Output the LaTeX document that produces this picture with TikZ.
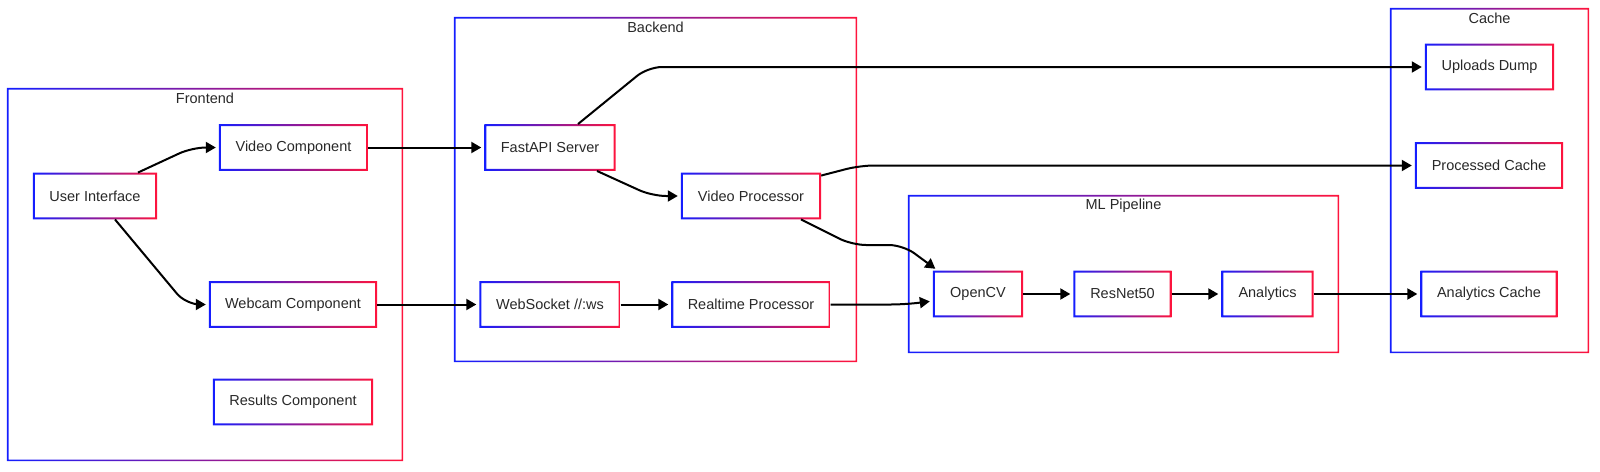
\documentclass[tikz,border=0pt]{standalone}
\usepackage{fontspec}
\setmainfont{Liberation Sans}
\usetikzlibrary{arrows.meta}
\definecolor{gB}{RGB}{20,30,255}
\definecolor{gR}{RGB}{255,20,60}
\definecolor{txt}{RGB}{40,40,40}
\newcommand\gring[2]{\shade[left color=gB, right color=gR, even odd rule] (#1.south west) rectangle (#1.north east) ([shift={(#2pt,#2pt)}]#1.south west) rectangle ([shift={(-#2pt,-#2pt)}]#1.north east);}
\begin{document}
\begin{tikzpicture}[x=1pt,y=-1pt,
  box/.style={rectangle, inner sep=0pt, minimum height=46.5pt, text=txt, font=\fontsize{14.5}{17}\selectfont},
  ctitle/.style={text=txt, inner sep=0pt, font=\fontsize{14.5}{17}\selectfont},
  cl/.style={rectangle, inner sep=0pt},
  conn/.style={line width=2pt, -{Triangle[length=10pt,width=11pt]}, rounded corners=14pt, shorten >=3pt}]
\useasboundingbox (0,0) rectangle (1600,471);
% clusters
\node[cl, minimum width=396pt, minimum height=373pt] (fe) at (205,274.5) {};
\node[cl, minimum width=403pt, minimum height=345pt] (be) at (655.5,189.5) {};
\node[cl, minimum width=431pt, minimum height=158pt] (ml) at (1123.5,274) {};
\node[cl, minimum width=199pt, minimum height=345pt] (ca) at (1489.5,180.5) {};
\gring{fe}{1.7}\gring{be}{1.7}\gring{ml}{1.7}\gring{ca}{1.7}
\node[ctitle] (fet) at ([yshift=-10.5pt]fe.north) {Frontend};
\node[ctitle] (bet) at ([yshift=-10.5pt]be.north) {Backend};
\node[ctitle] (mlt) at ([yshift=-10.5pt]ml.north) {ML Pipeline};
\node[ctitle] (cat) at ([yshift=-10.5pt]ca.north) {Cache};
% nodes
\node[box, minimum width=124pt] (ui) at (95,196) {User Interface};
\node[box, minimum width=149pt] (vc) at (293.5,147.5) {Video Component};
\node[box, minimum width=168pt] (wc) at (293,304.5) {Webcam Component};
\node[box, minimum width=160pt] (rc) at (293,402) {Results Component};
\node[box, minimum width=131pt] (fa) at (550,147.5) {FastAPI Server};
\node[box, minimum width=140pt] (vp) at (751,196) {Video Processor};
\node[box, minimum width=141pt] (ws) at (550,304.5) {WebSocket //:ws};
\node[box, minimum width=159pt] (rp) at (751,304.5) {Realtime Processor};
\node[box, minimum width=90pt] (cv) at (978,294) {OpenCV};
\node[box, minimum width=98pt] (rn) at (1122.5,294) {ResNet50};
\node[box, minimum width=92pt] (an) at (1267.5,294) {Analytics};
\node[box, minimum width=129pt] (ud) at (1489.5,67) {Uploads Dump};
\node[box, minimum width=148pt] (pc) at (1489,165.5) {Processed Cache};
\node[box, minimum width=137pt] (ac) at (1489,294) {Analytics Cache};
\foreach \n in {ui,vc,wc,rc,fa,vp,ws,rp,cv,rn,an,ud,pc,ac}{\gring{\n}{2}}
% connectors
\draw[conn] ([xshift=43pt]ui.north) -- (192,147.5) -- (vc.west);
\draw[conn] ([xshift=20pt]ui.south) -- (186,304.5) -- (wc.west);
\draw[conn] (vc.east) -- (fa.west);
\draw[conn] (wc.east) -- (ws.west);
\draw[conn] ([xshift=28pt]fa.north) -- (648,67) -- (ud.west);
\draw[conn] ([xshift=47pt]fa.south) -- (652,196) -- (vp.west);
\draw[conn] ([yshift=-3pt]vp.north east) -- (860,165.5) -- (pc.west);
\draw[conn] ([xshift=50pt]vp.south) -- (852,245) -- (903,245) -- ([xshift=5pt]cv.north west);
\draw[conn] (rp.east) -- (905,304.5) -- ([yshift=-7pt]cv.west);
\draw[conn] (ws.east) -- (rp.west);
\draw[conn] (cv.east) -- (rn.west);
\draw[conn] (rn.east) -- (an.west);
\draw[conn] (an.east) -- (ac.west);
\end{tikzpicture}
\end{document}
